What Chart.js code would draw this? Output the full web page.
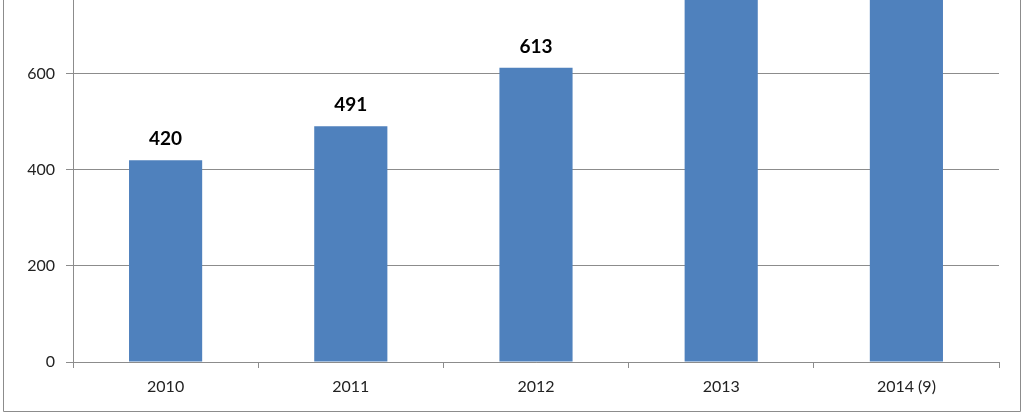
<!DOCTYPE html>
<html>
<head>
<meta charset="UTF-8">
<title>Chart</title>
<style>
  html, body { margin: 0; padding: 0; background: #fff; }
  #wrap { width: 1024px; height: 416px; }
</style>
<script src="https://cdn.jsdelivr.net/npm/chart.js"></script>
</head>
<body>
<div id="wrap"><canvas id="chartCanvas" width="1024" height="416"></canvas></div>
<script>
  const categories = ['2010', '2011', '2012', '2013', '2014 (9)'];
  const values = [420, 491, 613, 870, 930];
  const yTicks = [0, 200, 400, 600];

  // frame of the chart box (left, bottom, right)
  const framePlugin = {
    id: 'frame',
    afterDraw(chart) {
      const c = chart.ctx;
      c.save();
      c.strokeStyle = '#8c8c8c';
      c.lineWidth = 1;
      c.beginPath();
      c.moveTo(3.5, 0);
      c.lineTo(3.5, 411.5);
      c.lineTo(1020.5, 411.5);
      c.lineTo(1020.5, 0);
      c.stroke();
      c.restore();
    }
  };

  // value labels above the bars
  const labelPlugin = {
    id: 'barLabels',
    afterDatasetsDraw(chart) {
      const c = chart.ctx;
      const meta = chart.getDatasetMeta(0);
      c.save();
      c.font = 'bold 19px Lato, "Open Sans", sans-serif';
      c.fillStyle = '#000';
      c.textAlign = 'center';
      c.textBaseline = 'alphabetic';
      meta.data.forEach((bar, i) => {
        const y = bar.y - 15;
        if (y > chart.chartArea.top + 5) {
          c.fillText(values[i], bar.x, y);
        }
      });
      c.restore();
    }
  };

  const tickFont = { family: 'Lato, "Open Sans", sans-serif', size: 16 };

  new Chart(document.getElementById('chartCanvas'), {
    type: 'bar',
    data: {
      labels: categories,
      datasets: [{
        data: values,
        backgroundColor: '#4f81bd',
        borderWidth: 0,
        categoryPercentage: 1,
        barPercentage: 0.395
      }]
    },
    plugins: [framePlugin, labelPlugin],
    options: {
      responsive: false,
      animation: false,
      layout: { padding: { left: 0, right: 25, top: 0, bottom: 0 } },
      plugins: { legend: { display: false }, tooltip: { enabled: false } },
      scales: {
        x: {
          grid: { drawOnChartArea: false, drawTicks: true, tickLength: 6, color: '#8c8c8c', offset: true },
          border: { color: '#8c8c8c' },
          ticks: { color: '#222', font: tickFont, padding: 9, maxRotation: 0 },
          afterFit(scale) { scale.height = 54; scale.paddingLeft = 0; scale.paddingRight = 0; }
        },
        y: {
          min: 0,
          max: 754,
          grid: { color: '#8c8c8c', tickLength: 7 },
          border: { color: '#8c8c8c' },
          ticks: { color: '#222', font: tickFont, padding: 11 },
          afterBuildTicks(scale) { scale.ticks = yTicks.map(v => ({ value: v })); },
          afterFit(scale) { scale.width = 73; scale.paddingTop = 0; scale.paddingBottom = 0; }
        }
      }
    }
  });
</script>
</body>
</html>
